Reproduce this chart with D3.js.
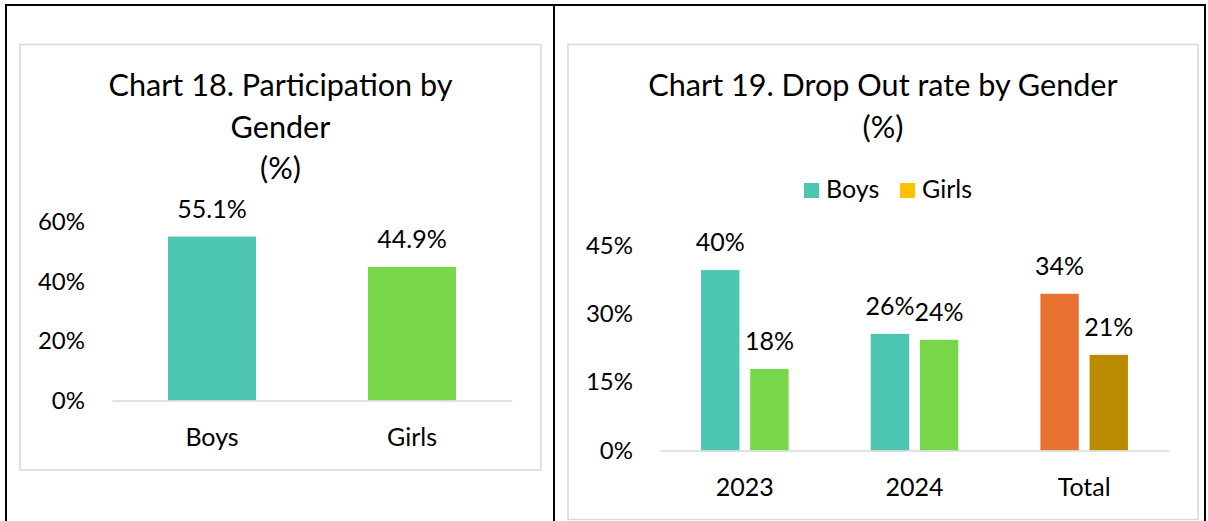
<!DOCTYPE html>
<html>
<head>
<meta charset="utf-8">
<script src="https://cdn.jsdelivr.net/npm/d3@7"></script>
<style>
  body { margin: 0; background: #fff; }
  text { font-family: Lato, "Open Sans", sans-serif; fill: #000; }
</style>
</head>
<body>
<div id="container"></div>
<script>
// chart 18 data
const partCats = ["Boys", "Girls"];
const partValues = [0.551, 0.449];
const partTicks = [0, 0.2, 0.4, 0.6];

// chart 19 data
const dropCats = ["2023", "2024", "Total"];
const seriesNames = ["Boys", "Girls"];
const dropBoys = [0.396, 0.256, 0.344];
const dropGirls = [0.179, 0.243, 0.21];
const dropTicks = [0, 0.15, 0.30, 0.45];

const teal = "#4cc6b1";
const green = "#78d64b";
const boysColors = [teal, teal, "#e97132"];
const girlsColors = [green, green, "#b98b00"];
const legendColors = [teal, "#ffc000"];

const w = 1208;
const h = 521;
const pct = d3.format(".0%");
const pct1 = d3.format(".1%");
const frameColor = "#d9d9d9";

const svg = d3.select("#container")
    .append("svg")
    .attr("width", w)
    .attr("height", h);

// outer table borders
svg.append("rect").attr("x", 0).attr("y", 0).attr("width", w).attr("height", h).attr("fill", "#fff");
[[5, 5, 1206, 5], [6, 4, 6, h], [554, 4, 554, h], [1205, 4, 1205, h]].forEach(l => {
    svg.append("line")
        .attr("x1", l[0]).attr("y1", l[1]).attr("x2", l[2]).attr("y2", l[3])
        .attr("stroke", "#000").attr("stroke-width", 2);
});

// chart frames
svg.append("rect").attr("x", 20).attr("y", 44.5).attr("width", 521).attr("height", 425.5)
    .attr("fill", "#fff").attr("stroke", frameColor).attr("stroke-width", 1.5);
svg.append("rect").attr("x", 568).attr("y", 44.5).attr("width", 630).attr("height", 475)
    .attr("fill", "#fff").attr("stroke", frameColor).attr("stroke-width", 1.5);

// ---------- Chart 18 ----------
const title1 = ["Chart 18. Participation by", "Gender", "(%)"];
svg.append("g").selectAll("text")
    .data(title1)
    .enter()
    .append("text")
    .attr("x", 280.5)
    .attr("y", (d, i) => 96 + i * 41.5)
    .attr("text-anchor", "middle")
    .attr("font-size", 30.6)
    .text(d => d);

const x1 = d3.scaleBand()
    .domain(partCats)
    .range([112, 512])
    .paddingInner(0.56)
    .paddingOuter(0.28);

const y1 = d3.scaleLinear()
    .domain([0, 0.6])
    .range([400.5, 222]);

svg.append("g").selectAll("rect")
    .data(partValues)
    .enter()
    .append("rect")
    .attr("x", (d, i) => x1(partCats[i]))
    .attr("y", d => y1(d))
    .attr("width", x1.bandwidth())
    .attr("height", d => y1(0) - y1(d))
    .attr("fill", (d, i) => i === 0 ? teal : green);

svg.append("g").selectAll("text")
    .data(partValues)
    .enter()
    .append("text")
    .attr("x", (d, i) => x1(partCats[i]) + x1.bandwidth() / 2)
    .attr("y", d => y1(d) - 19)
    .attr("text-anchor", "middle")
    .attr("font-size", 25)
    .text(d => pct1(d));

const yAxis1 = d3.axisLeft(y1).tickValues(partTicks).tickFormat(pct).tickSize(0).tickPadding(27);
const g1y = svg.append("g")
    .attr("transform", "translate(112,0)")
    .call(yAxis1);
g1y.select(".domain").remove();
g1y.selectAll("text").attr("font-size", 24).attr("font-family", null);

const xAxis1 = d3.axisBottom(x1).tickSize(0).tickPadding(28);
const g1x = svg.append("g")
    .attr("transform", "translate(0,400.5)")
    .call(xAxis1);
g1x.select(".domain").attr("stroke", frameColor).attr("stroke-width", 1.5);
g1x.selectAll("text").attr("font-size", 25).attr("font-family", null);

// ---------- Chart 19 ----------
const title2 = ["Chart 19. Drop Out rate by Gender", "(%)"];
svg.append("g").selectAll("text")
    .data(title2)
    .enter()
    .append("text")
    .attr("x", 883)
    .attr("y", (d, i) => 96 + i * 41.5)
    .attr("text-anchor", "middle")
    .attr("font-size", 30.6)
    .text(d => d);

// legend
const legend = svg.append("g").selectAll("g")
    .data(seriesNames)
    .enter()
    .append("g")
    .attr("transform", (d, i) => `translate(${804 + i * 96},183)`);
legend.append("rect")
    .attr("width", 15)
    .attr("height", 15)
    .attr("fill", (d, i) => legendColors[i]);
legend.append("text")
    .attr("x", 22)
    .attr("y", 15)
    .attr("font-size", 25)
    .text(d => d);

const x2 = d3.scaleBand()
    .domain(dropCats)
    .range([660, 1169])
    .paddingInner(0.484)
    .paddingOuter(0.242);

const xs = d3.scaleBand()
    .domain(seriesNames)
    .range([0, x2.bandwidth()])
    .paddingInner(0.22);

const y2 = d3.scaleLinear()
    .domain([0, 0.45])
    .range([450.5, 245.5]);

const groups = svg.append("g").selectAll("g")
    .data(dropCats)
    .enter()
    .append("g")
    .attr("transform", d => `translate(${x2(d)},0)`);

groups.append("rect")
    .attr("x", xs("Boys"))
    .attr("y", (d, i) => y2(dropBoys[i]))
    .attr("width", xs.bandwidth())
    .attr("height", (d, i) => y2(0) - y2(dropBoys[i]))
    .attr("fill", (d, i) => boysColors[i]);

groups.append("rect")
    .attr("x", xs("Girls"))
    .attr("y", (d, i) => y2(dropGirls[i]))
    .attr("width", xs.bandwidth())
    .attr("height", (d, i) => y2(0) - y2(dropGirls[i]))
    .attr("fill", (d, i) => girlsColors[i]);

groups.append("text")
    .attr("x", xs("Boys") + xs.bandwidth() / 2)
    .attr("y", (d, i) => y2(dropBoys[i]) - 19)
    .attr("text-anchor", "middle")
    .attr("font-size", 25)
    .text((d, i) => pct(dropBoys[i]));

groups.append("text")
    .attr("x", xs("Girls") + xs.bandwidth() / 2)
    .attr("y", (d, i) => y2(dropGirls[i]) - 19)
    .attr("text-anchor", "middle")
    .attr("font-size", 25)
    .text((d, i) => pct(dropGirls[i]));

const yAxis2 = d3.axisLeft(y2).tickValues(dropTicks).tickFormat(pct).tickSize(0).tickPadding(27);
const g2y = svg.append("g")
    .attr("transform", "translate(660,0)")
    .call(yAxis2);
g2y.select(".domain").remove();
g2y.selectAll("text").attr("font-size", 24).attr("font-family", null);

const xAxis2 = d3.axisBottom(x2).tickSize(0).tickPadding(28);
const g2x = svg.append("g")
    .attr("transform", "translate(0,450.5)")
    .call(xAxis2);
g2x.select(".domain").attr("stroke", frameColor).attr("stroke-width", 1.5);
g2x.selectAll("text").attr("font-size", 25).attr("font-family", null);
</script>
</body>
</html>
